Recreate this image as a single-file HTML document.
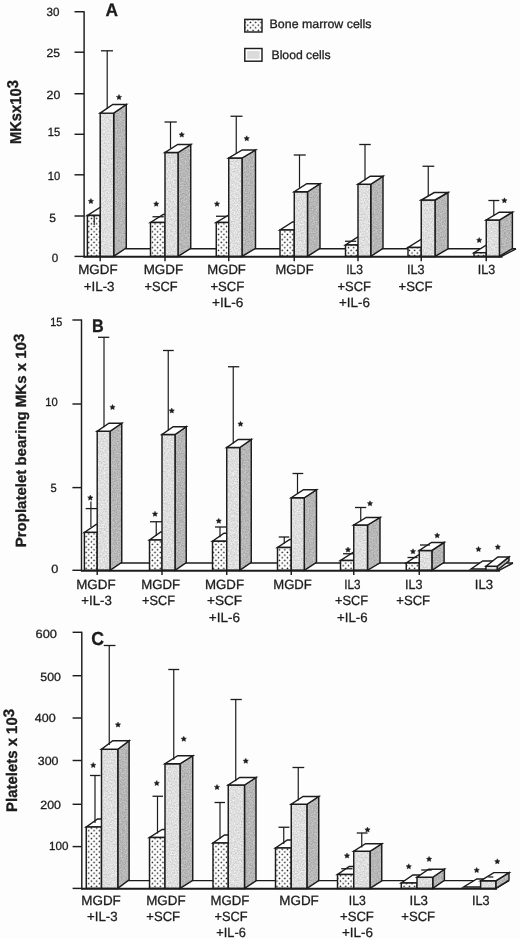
<!DOCTYPE html>
<html><head><meta charset="utf-8"><title>Figure</title>
<style>
html,body{margin:0;padding:0;background:#fdfdfd;}
body{width:520px;height:939px;overflow:hidden;font-family:"Liberation Sans",sans-serif;}
svg{display:block;font-family:"Liberation Sans",sans-serif;}
text{text-rendering:geometricPrecision;}
</style></head><body>
<svg width="520" height="939" viewBox="0 0 520 939">
<defs>
<pattern id="dots" width="5.3" height="5.3" patternUnits="userSpaceOnUse">
<rect width="5.3" height="5.3" fill="#fff"/>
<circle cx="1.3" cy="1.3" r="0.78" fill="#111"/>
<circle cx="3.95" cy="3.95" r="0.78" fill="#111"/>
</pattern>
<filter id="nf" x="0" y="0" width="100%" height="100%" color-interpolation-filters="sRGB">
<feTurbulence type="fractalNoise" baseFrequency="0.7" numOctaves="2" seed="7" result="t"/>
<feColorMatrix in="t" type="matrix" values="0.3 0 0 0 0.722  0.3 0 0 0 0.722  0.3 0 0 0 0.722  0 0 0 0 1" result="g"/>
<feComposite in="g" in2="SourceGraphic" operator="in"/>
</filter>
<filter id="ns" x="0" y="0" width="100%" height="100%" color-interpolation-filters="sRGB">
<feTurbulence type="fractalNoise" baseFrequency="0.75" numOctaves="2" seed="11" result="t"/>
<feColorMatrix in="t" type="matrix" values="0.3 0 0 0 0.565  0.3 0 0 0 0.565  0.3 0 0 0 0.565  0 0 0 0 1" result="g"/>
<feComposite in="g" in2="SourceGraphic" operator="in"/>
</filter>
</defs>
<rect width="520" height="939" fill="#fdfdfd"/>
<g opacity="0.999">
<polygon points="84.10,256.40 501.50,256.40 516.00,248.80 96.10,248.80" fill="#fff" stroke="none" stroke-width="0" stroke-linejoin="miter"/>
<line x1="125.30" y1="248.80" x2="516.00" y2="248.80" stroke="#1c1c1c" stroke-width="1.45" stroke-linecap="butt"/>
<line x1="501.50" y1="256.40" x2="516.00" y2="248.80" stroke="#1c1c1c" stroke-width="1.45" stroke-linecap="butt"/>
<polygon points="87.40,215.40 100.20,215.40 112.80,207.40 100.00,207.40" fill="#fff" stroke="#1c1c1c" stroke-width="1.45" stroke-linejoin="miter"/>
<rect x="87.40" y="215.40" width="12.80" height="41.00" fill="url(#dots)" stroke="#1c1c1c" stroke-width="1.45"/>
<line x1="94.20" y1="215.60" x2="94.20" y2="225.00" stroke="#1c1c1c" stroke-width="1.2" stroke-linecap="butt"/>
<line x1="91.00" y1="215.60" x2="97.30" y2="215.60" stroke="#1c1c1c" stroke-width="1.3" stroke-linecap="butt"/>
<polygon points="113.70,113.10 126.30,104.50 126.30,247.80 113.70,256.40" fill="#bababa" filter="url(#ns)"/>
<polygon points="113.70,113.10 126.30,104.50 126.30,247.80 113.70,256.40" fill="none" stroke="#1c1c1c" stroke-width="1.45" stroke-linejoin="miter"/>
<polygon points="100.20,113.10 113.70,113.10 113.70,256.40 100.20,256.40" fill="#dbdbdb" filter="url(#nf)"/>
<polygon points="100.20,113.10 113.70,113.10 113.70,256.40 100.20,256.40" fill="none" stroke="#1c1c1c" stroke-width="1.45" stroke-linejoin="miter"/>
<polygon points="100.20,113.10 113.70,113.10 126.30,104.50 112.80,104.50" fill="#fff" stroke="#1c1c1c" stroke-width="1.45" stroke-linejoin="miter"/>
<line x1="107.20" y1="50.80" x2="107.20" y2="108.80" stroke="#1c1c1c" stroke-width="1.2" stroke-linecap="butt"/>
<line x1="101.00" y1="50.80" x2="113.00" y2="50.80" stroke="#1c1c1c" stroke-width="1.3" stroke-linecap="butt"/>
<polygon points="90.90,198.50 91.72,200.17 93.56,200.43 92.23,201.73 92.55,203.57 90.90,202.70 89.25,203.57 89.57,201.73 88.24,200.43 90.08,200.17" fill="#1c1c1c" stroke="#1c1c1c" stroke-width="0.45" stroke-linejoin="round"/>
<polygon points="119.00,94.50 119.82,96.17 121.66,96.43 120.33,97.73 120.65,99.57 119.00,98.70 117.35,99.57 117.67,97.73 116.34,96.43 118.18,96.17" fill="#1c1c1c" stroke="#1c1c1c" stroke-width="0.45" stroke-linejoin="round"/>
<polygon points="150.50,222.50 165.00,222.50 177.75,214.50 163.25,214.50" fill="#fff" stroke="#1c1c1c" stroke-width="1.45" stroke-linejoin="miter"/>
<rect x="150.50" y="222.50" width="14.50" height="33.90" fill="url(#dots)" stroke="#1c1c1c" stroke-width="1.45"/>
<line x1="152.50" y1="216.75" x2="163.75" y2="216.75" stroke="#1c1c1c" stroke-width="1.3" stroke-linecap="butt"/>
<polygon points="178.00,152.50 190.75,144.50 190.75,248.40 178.00,256.40" fill="#bababa" filter="url(#ns)"/>
<polygon points="178.00,152.50 190.75,144.50 190.75,248.40 178.00,256.40" fill="none" stroke="#1c1c1c" stroke-width="1.45" stroke-linejoin="miter"/>
<polygon points="165.00,152.50 178.00,152.50 178.00,256.40 165.00,256.40" fill="#dbdbdb" filter="url(#nf)"/>
<polygon points="165.00,152.50 178.00,152.50 178.00,256.40 165.00,256.40" fill="none" stroke="#1c1c1c" stroke-width="1.45" stroke-linejoin="miter"/>
<polygon points="165.00,152.50 178.00,152.50 190.75,144.50 177.75,144.50" fill="#fff" stroke="#1c1c1c" stroke-width="1.45" stroke-linejoin="miter"/>
<line x1="170.50" y1="122.00" x2="170.50" y2="148.50" stroke="#1c1c1c" stroke-width="1.2" stroke-linecap="butt"/>
<line x1="164.50" y1="122.00" x2="176.75" y2="122.00" stroke="#1c1c1c" stroke-width="1.3" stroke-linecap="butt"/>
<polygon points="156.25,201.25 157.07,202.92 158.91,203.18 157.58,204.48 157.90,206.32 156.25,205.45 154.60,206.32 154.92,204.48 153.59,203.18 155.43,202.92" fill="#1c1c1c" stroke="#1c1c1c" stroke-width="0.45" stroke-linejoin="round"/>
<polygon points="181.75,132.00 182.57,133.67 184.41,133.93 183.08,135.23 183.40,137.07 181.75,136.20 180.10,137.07 180.42,135.23 179.09,133.93 180.93,133.67" fill="#1c1c1c" stroke="#1c1c1c" stroke-width="0.45" stroke-linejoin="round"/>
<polygon points="216.25,222.50 228.75,222.50 242.25,214.50 229.75,214.50" fill="#fff" stroke="#1c1c1c" stroke-width="1.45" stroke-linejoin="miter"/>
<rect x="216.25" y="222.50" width="12.50" height="33.90" fill="url(#dots)" stroke="#1c1c1c" stroke-width="1.45"/>
<line x1="216.00" y1="216.25" x2="227.50" y2="216.25" stroke="#1c1c1c" stroke-width="1.3" stroke-linecap="butt"/>
<polygon points="242.00,158.00 255.50,150.00 255.50,248.40 242.00,256.40" fill="#bababa" filter="url(#ns)"/>
<polygon points="242.00,158.00 255.50,150.00 255.50,248.40 242.00,256.40" fill="none" stroke="#1c1c1c" stroke-width="1.45" stroke-linejoin="miter"/>
<polygon points="228.75,158.00 242.00,158.00 242.00,256.40 228.75,256.40" fill="#dbdbdb" filter="url(#nf)"/>
<polygon points="228.75,158.00 242.00,158.00 242.00,256.40 228.75,256.40" fill="none" stroke="#1c1c1c" stroke-width="1.45" stroke-linejoin="miter"/>
<polygon points="228.75,158.00 242.00,158.00 255.50,150.00 242.25,150.00" fill="#fff" stroke="#1c1c1c" stroke-width="1.45" stroke-linejoin="miter"/>
<line x1="236.25" y1="116.25" x2="236.25" y2="154.00" stroke="#1c1c1c" stroke-width="1.2" stroke-linecap="butt"/>
<line x1="230.50" y1="116.25" x2="242.50" y2="116.25" stroke="#1c1c1c" stroke-width="1.3" stroke-linecap="butt"/>
<polygon points="217.00,201.25 217.82,202.92 219.66,203.18 218.33,204.48 218.65,206.32 217.00,205.45 215.35,206.32 215.67,204.48 214.34,203.18 216.18,202.92" fill="#1c1c1c" stroke="#1c1c1c" stroke-width="0.45" stroke-linejoin="round"/>
<polygon points="246.75,135.75 247.57,137.42 249.41,137.68 248.08,138.98 248.40,140.82 246.75,139.95 245.10,140.82 245.42,138.98 244.09,137.68 245.93,137.42" fill="#1c1c1c" stroke="#1c1c1c" stroke-width="0.45" stroke-linejoin="round"/>
<polygon points="280.00,230.00 294.25,230.00 306.75,222.00 292.50,222.00" fill="#fff" stroke="#1c1c1c" stroke-width="1.45" stroke-linejoin="miter"/>
<rect x="280.00" y="230.00" width="14.25" height="26.40" fill="url(#dots)" stroke="#1c1c1c" stroke-width="1.45"/>
<polygon points="307.50,191.75 320.00,183.75 320.00,248.40 307.50,256.40" fill="#bababa" filter="url(#ns)"/>
<polygon points="307.50,191.75 320.00,183.75 320.00,248.40 307.50,256.40" fill="none" stroke="#1c1c1c" stroke-width="1.45" stroke-linejoin="miter"/>
<polygon points="294.25,191.75 307.50,191.75 307.50,256.40 294.25,256.40" fill="#dbdbdb" filter="url(#nf)"/>
<polygon points="294.25,191.75 307.50,191.75 307.50,256.40 294.25,256.40" fill="none" stroke="#1c1c1c" stroke-width="1.45" stroke-linejoin="miter"/>
<polygon points="294.25,191.75 307.50,191.75 320.00,183.75 306.75,183.75" fill="#fff" stroke="#1c1c1c" stroke-width="1.45" stroke-linejoin="miter"/>
<line x1="299.50" y1="155.00" x2="299.50" y2="187.75" stroke="#1c1c1c" stroke-width="1.2" stroke-linecap="butt"/>
<line x1="293.75" y1="155.00" x2="305.75" y2="155.00" stroke="#1c1c1c" stroke-width="1.3" stroke-linecap="butt"/>
<polygon points="345.50,245.00 358.00,245.00 370.25,237.00 357.75,237.00" fill="#fff" stroke="#1c1c1c" stroke-width="1.45" stroke-linejoin="miter"/>
<rect x="345.50" y="245.00" width="12.50" height="11.40" fill="url(#dots)" stroke="#1c1c1c" stroke-width="1.45"/>
<line x1="345.00" y1="241.25" x2="356.25" y2="241.25" stroke="#1c1c1c" stroke-width="1.3" stroke-linecap="butt"/>
<polygon points="370.75,184.25 383.00,176.25 383.00,248.40 370.75,256.40" fill="#bababa" filter="url(#ns)"/>
<polygon points="370.75,184.25 383.00,176.25 383.00,248.40 370.75,256.40" fill="none" stroke="#1c1c1c" stroke-width="1.45" stroke-linejoin="miter"/>
<polygon points="358.00,184.25 370.75,184.25 370.75,256.40 358.00,256.40" fill="#dbdbdb" filter="url(#nf)"/>
<polygon points="358.00,184.25 370.75,184.25 370.75,256.40 358.00,256.40" fill="none" stroke="#1c1c1c" stroke-width="1.45" stroke-linejoin="miter"/>
<polygon points="358.00,184.25 370.75,184.25 383.00,176.25 370.25,176.25" fill="#fff" stroke="#1c1c1c" stroke-width="1.45" stroke-linejoin="miter"/>
<line x1="365.00" y1="144.50" x2="365.00" y2="180.25" stroke="#1c1c1c" stroke-width="1.2" stroke-linecap="butt"/>
<line x1="359.25" y1="144.50" x2="370.75" y2="144.50" stroke="#1c1c1c" stroke-width="1.3" stroke-linecap="butt"/>
<polygon points="408.00,247.50 421.25,247.50 434.25,239.50 421.00,239.50" fill="#fff" stroke="#1c1c1c" stroke-width="1.45" stroke-linejoin="miter"/>
<rect x="408.00" y="247.50" width="13.25" height="8.90" fill="url(#dots)" stroke="#1c1c1c" stroke-width="1.45"/>
<polygon points="435.00,200.00 448.00,192.50 448.00,248.90 435.00,256.40" fill="#bababa" filter="url(#ns)"/>
<polygon points="435.00,200.00 448.00,192.50 448.00,248.90 435.00,256.40" fill="none" stroke="#1c1c1c" stroke-width="1.45" stroke-linejoin="miter"/>
<polygon points="421.25,200.00 435.00,200.00 435.00,256.40 421.25,256.40" fill="#dbdbdb" filter="url(#nf)"/>
<polygon points="421.25,200.00 435.00,200.00 435.00,256.40 421.25,256.40" fill="none" stroke="#1c1c1c" stroke-width="1.45" stroke-linejoin="miter"/>
<polygon points="421.25,200.00 435.00,200.00 448.00,192.50 434.25,192.50" fill="#fff" stroke="#1c1c1c" stroke-width="1.45" stroke-linejoin="miter"/>
<line x1="428.25" y1="166.25" x2="428.25" y2="196.25" stroke="#1c1c1c" stroke-width="1.2" stroke-linecap="butt"/>
<line x1="422.50" y1="166.25" x2="434.25" y2="166.25" stroke="#1c1c1c" stroke-width="1.3" stroke-linecap="butt"/>
<polygon points="474.00,252.70 486.25,252.70 499.25,244.70 487.00,244.70" fill="#fff" stroke="#1c1c1c" stroke-width="1.45" stroke-linejoin="miter"/>
<rect x="474.00" y="252.70" width="12.25" height="3.70" fill="url(#dots)" stroke="#1c1c1c" stroke-width="1.45"/>
<polygon points="499.40,220.00 512.40,212.20 512.40,248.60 499.40,256.40" fill="#bababa" filter="url(#ns)"/>
<polygon points="499.40,220.00 512.40,212.20 512.40,248.60 499.40,256.40" fill="none" stroke="#1c1c1c" stroke-width="1.45" stroke-linejoin="miter"/>
<polygon points="486.25,220.00 499.40,220.00 499.40,256.40 486.25,256.40" fill="#dbdbdb" filter="url(#nf)"/>
<polygon points="486.25,220.00 499.40,220.00 499.40,256.40 486.25,256.40" fill="none" stroke="#1c1c1c" stroke-width="1.45" stroke-linejoin="miter"/>
<polygon points="486.25,220.00 499.40,220.00 512.40,212.20 499.25,212.20" fill="#fff" stroke="#1c1c1c" stroke-width="1.45" stroke-linejoin="miter"/>
<line x1="493.80" y1="200.50" x2="493.80" y2="216.10" stroke="#1c1c1c" stroke-width="1.2" stroke-linecap="butt"/>
<line x1="488.40" y1="200.50" x2="499.30" y2="200.50" stroke="#1c1c1c" stroke-width="1.3" stroke-linecap="butt"/>
<polygon points="479.20,237.50 480.02,239.17 481.86,239.43 480.53,240.73 480.85,242.57 479.20,241.70 477.55,242.57 477.87,240.73 476.54,239.43 478.38,239.17" fill="#1c1c1c" stroke="#1c1c1c" stroke-width="0.45" stroke-linejoin="round"/>
<polygon points="504.40,197.80 505.22,199.47 507.06,199.73 505.73,201.03 506.05,202.87 504.40,202.00 502.75,202.87 503.07,201.03 501.74,199.73 503.58,199.47" fill="#1c1c1c" stroke="#1c1c1c" stroke-width="0.45" stroke-linejoin="round"/>
<line x1="83.60" y1="256.75" x2="502.50" y2="256.75" stroke="#1c1c1c" stroke-width="2.0" stroke-linecap="butt"/>
<line x1="84.10" y1="11.15" x2="84.10" y2="257.40" stroke="#1c1c1c" stroke-width="1.45" stroke-linecap="butt"/>
<line x1="74.50" y1="11.75" x2="84.10" y2="11.75" stroke="#1c1c1c" stroke-width="1.45" stroke-linecap="butt"/>
<line x1="74.50" y1="52.20" x2="84.10" y2="52.20" stroke="#1c1c1c" stroke-width="1.45" stroke-linecap="butt"/>
<line x1="74.50" y1="93.75" x2="84.10" y2="93.75" stroke="#1c1c1c" stroke-width="1.45" stroke-linecap="butt"/>
<line x1="74.50" y1="134.30" x2="84.10" y2="134.30" stroke="#1c1c1c" stroke-width="1.45" stroke-linecap="butt"/>
<line x1="74.50" y1="174.80" x2="84.10" y2="174.80" stroke="#1c1c1c" stroke-width="1.45" stroke-linecap="butt"/>
<line x1="74.50" y1="216.00" x2="84.10" y2="216.00" stroke="#1c1c1c" stroke-width="1.45" stroke-linecap="butt"/>
<line x1="74.50" y1="256.40" x2="84.10" y2="256.40" stroke="#1c1c1c" stroke-width="1.45" stroke-linecap="butt"/>
<line x1="100.20" y1="256.40" x2="100.20" y2="261.20" stroke="#1c1c1c" stroke-width="1.45" stroke-linecap="butt"/>
<line x1="165.00" y1="256.40" x2="165.00" y2="261.20" stroke="#1c1c1c" stroke-width="1.45" stroke-linecap="butt"/>
<line x1="228.75" y1="256.40" x2="228.75" y2="261.20" stroke="#1c1c1c" stroke-width="1.45" stroke-linecap="butt"/>
<line x1="294.25" y1="256.40" x2="294.25" y2="261.20" stroke="#1c1c1c" stroke-width="1.45" stroke-linecap="butt"/>
<line x1="358.00" y1="256.40" x2="358.00" y2="261.20" stroke="#1c1c1c" stroke-width="1.45" stroke-linecap="butt"/>
<line x1="421.25" y1="256.40" x2="421.25" y2="261.20" stroke="#1c1c1c" stroke-width="1.45" stroke-linecap="butt"/>
<line x1="486.25" y1="256.40" x2="486.25" y2="261.20" stroke="#1c1c1c" stroke-width="1.45" stroke-linecap="butt"/>
<text transform="translate(46.60,16.45) scale(0.9736,1)" font-size="11.9" font-weight="normal" fill="#1c1c1c" stroke="#1c1c1c" stroke-width="0.3">30</text>
<text transform="translate(46.40,57.00) scale(1.0189,1)" font-size="11.9" font-weight="normal" fill="#1c1c1c" stroke="#1c1c1c" stroke-width="0.3">25</text>
<text transform="translate(46.60,99.25) scale(1.0340,1)" font-size="11.9" font-weight="normal" fill="#1c1c1c" stroke="#1c1c1c" stroke-width="0.3">20</text>
<text transform="translate(47.80,135.65) scale(0.9434,1)" font-size="11.9" font-weight="normal" fill="#1c1c1c" stroke="#1c1c1c" stroke-width="0.3">15</text>
<text transform="translate(47.80,180.25) scale(0.9434,1)" font-size="11.9" font-weight="normal" fill="#1c1c1c" stroke="#1c1c1c" stroke-width="0.3">10</text>
<text transform="translate(49.20,222.25) scale(1.0113,1)" font-size="11.9" font-weight="normal" fill="#1c1c1c" stroke="#1c1c1c" stroke-width="0.3">5</text>
<text transform="translate(51.80,262.25) scale(0.9811,1)" font-size="11.9" font-weight="normal" fill="#1c1c1c" stroke="#1c1c1c" stroke-width="0.3">0</text>
<text transform="translate(78.25,273.60) scale(0.9968,1)" font-size="13.4" font-weight="normal" fill="#1c1c1c" stroke="#1c1c1c" stroke-width="0.3">MGDF</text>
<text transform="translate(83.75,290.60) scale(0.9960,1)" font-size="13.4" font-weight="normal" fill="#1c1c1c" stroke="#1c1c1c" stroke-width="0.3">+IL-3</text>
<text transform="translate(143.75,273.60) scale(0.9968,1)" font-size="13.4" font-weight="normal" fill="#1c1c1c" stroke="#1c1c1c" stroke-width="0.3">MGDF</text>
<text transform="translate(144.50,290.60) scale(0.9565,1)" font-size="13.4" font-weight="normal" fill="#1c1c1c" stroke="#1c1c1c" stroke-width="0.3">+SCF</text>
<text transform="translate(207.30,273.60) scale(0.9778,1)" font-size="13.4" font-weight="normal" fill="#1c1c1c" stroke="#1c1c1c" stroke-width="0.3">MGDF</text>
<text transform="translate(210.40,290.60) scale(0.9797,1)" font-size="13.4" font-weight="normal" fill="#1c1c1c" stroke="#1c1c1c" stroke-width="0.3">+SCF</text>
<text transform="translate(212.00,307.30) scale(1.0138,1)" font-size="13.4" font-weight="normal" fill="#1c1c1c" stroke="#1c1c1c" stroke-width="0.3">+IL-6</text>
<text transform="translate(275.60,273.60) scale(0.9625,1)" font-size="13.4" font-weight="normal" fill="#1c1c1c" stroke="#1c1c1c" stroke-width="0.3">MGDF</text>
<text transform="translate(346.20,273.60) scale(0.9020,1)" font-size="13.4" font-weight="normal" fill="#1c1c1c" stroke="#1c1c1c" stroke-width="0.3">IL3</text>
<text transform="translate(337.50,290.60) scale(0.9652,1)" font-size="13.4" font-weight="normal" fill="#1c1c1c" stroke="#1c1c1c" stroke-width="0.3">+SCF</text>
<text transform="translate(339.00,307.30) scale(0.9976,1)" font-size="13.4" font-weight="normal" fill="#1c1c1c" stroke="#1c1c1c" stroke-width="0.3">+IL-6</text>
<text transform="translate(407.00,273.60) scale(0.9450,1)" font-size="13.4" font-weight="normal" fill="#1c1c1c" stroke="#1c1c1c" stroke-width="0.3">IL3</text>
<text transform="translate(398.50,290.60) scale(0.9797,1)" font-size="13.4" font-weight="normal" fill="#1c1c1c" stroke="#1c1c1c" stroke-width="0.3">+SCF</text>
<text transform="translate(477.70,273.60) scale(0.9342,1)" font-size="13.4" font-weight="normal" fill="#1c1c1c" stroke="#1c1c1c" stroke-width="0.3">IL3</text>
<polygon points="81.50,570.30 499.00,570.30 513.00,563.00 93.50,563.00" fill="#fff" stroke="none" stroke-width="0" stroke-linejoin="miter"/>
<line x1="120.75" y1="563.00" x2="513.00" y2="563.00" stroke="#1c1c1c" stroke-width="1.45" stroke-linecap="butt"/>
<line x1="499.00" y1="570.30" x2="513.00" y2="563.00" stroke="#1c1c1c" stroke-width="1.45" stroke-linecap="butt"/>
<polygon points="84.40,532.40 97.20,532.40 108.95,524.40 96.15,524.40" fill="#fff" stroke="#1c1c1c" stroke-width="1.45" stroke-linejoin="miter"/>
<rect x="84.40" y="532.40" width="12.80" height="37.90" fill="url(#dots)" stroke="#1c1c1c" stroke-width="1.45"/>
<line x1="90.90" y1="508.60" x2="90.90" y2="527.00" stroke="#1c1c1c" stroke-width="1.2" stroke-linecap="butt"/>
<line x1="85.70" y1="508.60" x2="97.00" y2="508.60" stroke="#1c1c1c" stroke-width="1.3" stroke-linecap="butt"/>
<line x1="90.90" y1="501.50" x2="90.90" y2="508.60" stroke="#1c1c1c" stroke-width="1.2" stroke-linecap="butt"/>
<polygon points="110.00,431.25 121.75,423.25 121.75,562.30 110.00,570.30" fill="#bababa" filter="url(#ns)"/>
<polygon points="110.00,431.25 121.75,423.25 121.75,562.30 110.00,570.30" fill="none" stroke="#1c1c1c" stroke-width="1.45" stroke-linejoin="miter"/>
<polygon points="97.20,431.25 110.00,431.25 110.00,570.30 97.20,570.30" fill="#dbdbdb" filter="url(#nf)"/>
<polygon points="97.20,431.25 110.00,431.25 110.00,570.30 97.20,570.30" fill="none" stroke="#1c1c1c" stroke-width="1.45" stroke-linejoin="miter"/>
<polygon points="97.20,431.25 110.00,431.25 121.75,423.25 108.95,423.25" fill="#fff" stroke="#1c1c1c" stroke-width="1.45" stroke-linejoin="miter"/>
<line x1="104.00" y1="337.30" x2="104.00" y2="427.25" stroke="#1c1c1c" stroke-width="1.2" stroke-linecap="butt"/>
<line x1="98.00" y1="337.30" x2="109.25" y2="337.30" stroke="#1c1c1c" stroke-width="1.3" stroke-linecap="butt"/>
<polygon points="90.30,495.10 91.12,496.77 92.96,497.03 91.63,498.33 91.95,500.17 90.30,499.30 88.65,500.17 88.97,498.33 87.64,497.03 89.48,496.77" fill="#1c1c1c" stroke="#1c1c1c" stroke-width="0.45" stroke-linejoin="round"/>
<polygon points="112.50,404.50 113.32,406.17 115.16,406.43 113.83,407.73 114.15,409.57 112.50,408.70 110.85,409.57 111.17,407.73 109.84,406.43 111.68,406.17" fill="#1c1c1c" stroke="#1c1c1c" stroke-width="0.45" stroke-linejoin="round"/>
<polygon points="149.50,540.00 162.00,540.00 173.25,532.00 160.75,532.00" fill="#fff" stroke="#1c1c1c" stroke-width="1.45" stroke-linejoin="miter"/>
<rect x="149.50" y="540.00" width="12.50" height="30.30" fill="url(#dots)" stroke="#1c1c1c" stroke-width="1.45"/>
<line x1="156.25" y1="521.75" x2="156.25" y2="536.00" stroke="#1c1c1c" stroke-width="1.2" stroke-linecap="butt"/>
<line x1="150.00" y1="521.75" x2="162.00" y2="521.75" stroke="#1c1c1c" stroke-width="1.3" stroke-linecap="butt"/>
<polygon points="175.00,434.50 186.25,426.75 186.25,562.55 175.00,570.30" fill="#bababa" filter="url(#ns)"/>
<polygon points="175.00,434.50 186.25,426.75 186.25,562.55 175.00,570.30" fill="none" stroke="#1c1c1c" stroke-width="1.45" stroke-linejoin="miter"/>
<polygon points="162.00,434.50 175.00,434.50 175.00,570.30 162.00,570.30" fill="#dbdbdb" filter="url(#nf)"/>
<polygon points="162.00,434.50 175.00,434.50 175.00,570.30 162.00,570.30" fill="none" stroke="#1c1c1c" stroke-width="1.45" stroke-linejoin="miter"/>
<polygon points="162.00,434.50 175.00,434.50 186.25,426.75 173.25,426.75" fill="#fff" stroke="#1c1c1c" stroke-width="1.45" stroke-linejoin="miter"/>
<line x1="168.25" y1="350.50" x2="168.25" y2="430.62" stroke="#1c1c1c" stroke-width="1.2" stroke-linecap="butt"/>
<line x1="163.00" y1="350.50" x2="173.75" y2="350.50" stroke="#1c1c1c" stroke-width="1.3" stroke-linecap="butt"/>
<polygon points="155.00,511.25 155.82,512.92 157.66,513.18 156.33,514.48 156.65,516.32 155.00,515.45 153.35,516.32 153.67,514.48 152.34,513.18 154.18,512.92" fill="#1c1c1c" stroke="#1c1c1c" stroke-width="0.45" stroke-linejoin="round"/>
<polygon points="171.75,408.00 172.57,409.67 174.41,409.93 173.08,411.23 173.40,413.07 171.75,412.20 170.10,413.07 170.42,411.23 169.09,409.93 170.93,409.67" fill="#1c1c1c" stroke="#1c1c1c" stroke-width="0.45" stroke-linejoin="round"/>
<polygon points="212.50,541.25 226.75,541.25 238.25,533.25 224.00,533.25" fill="#fff" stroke="#1c1c1c" stroke-width="1.45" stroke-linejoin="miter"/>
<rect x="212.50" y="541.25" width="14.25" height="29.05" fill="url(#dots)" stroke="#1c1c1c" stroke-width="1.45"/>
<line x1="220.00" y1="527.00" x2="220.00" y2="537.25" stroke="#1c1c1c" stroke-width="1.2" stroke-linecap="butt"/>
<line x1="215.00" y1="527.00" x2="226.25" y2="527.00" stroke="#1c1c1c" stroke-width="1.3" stroke-linecap="butt"/>
<polygon points="239.75,447.50 251.25,439.50 251.25,562.30 239.75,570.30" fill="#bababa" filter="url(#ns)"/>
<polygon points="239.75,447.50 251.25,439.50 251.25,562.30 239.75,570.30" fill="none" stroke="#1c1c1c" stroke-width="1.45" stroke-linejoin="miter"/>
<polygon points="226.75,447.50 239.75,447.50 239.75,570.30 226.75,570.30" fill="#dbdbdb" filter="url(#nf)"/>
<polygon points="226.75,447.50 239.75,447.50 239.75,570.30 226.75,570.30" fill="none" stroke="#1c1c1c" stroke-width="1.45" stroke-linejoin="miter"/>
<polygon points="226.75,447.50 239.75,447.50 251.25,439.50 238.25,439.50" fill="#fff" stroke="#1c1c1c" stroke-width="1.45" stroke-linejoin="miter"/>
<line x1="233.25" y1="366.75" x2="233.25" y2="443.50" stroke="#1c1c1c" stroke-width="1.2" stroke-linecap="butt"/>
<line x1="228.00" y1="366.75" x2="239.25" y2="366.75" stroke="#1c1c1c" stroke-width="1.3" stroke-linecap="butt"/>
<polygon points="218.75,518.25 219.57,519.92 221.41,520.18 220.08,521.48 220.40,523.32 218.75,522.45 217.10,523.32 217.42,521.48 216.09,520.18 217.93,519.92" fill="#1c1c1c" stroke="#1c1c1c" stroke-width="0.45" stroke-linejoin="round"/>
<polygon points="240.50,421.25 241.32,422.92 243.16,423.18 241.83,424.48 242.15,426.32 240.50,425.45 238.85,426.32 239.17,424.48 237.84,423.18 239.68,422.92" fill="#1c1c1c" stroke="#1c1c1c" stroke-width="0.45" stroke-linejoin="round"/>
<polygon points="277.50,547.50 291.25,547.50 303.50,539.50 289.75,539.50" fill="#fff" stroke="#1c1c1c" stroke-width="1.45" stroke-linejoin="miter"/>
<rect x="277.50" y="547.50" width="13.75" height="22.80" fill="url(#dots)" stroke="#1c1c1c" stroke-width="1.45"/>
<line x1="284.25" y1="537.00" x2="284.25" y2="543.50" stroke="#1c1c1c" stroke-width="1.2" stroke-linecap="butt"/>
<line x1="278.75" y1="537.00" x2="289.25" y2="537.00" stroke="#1c1c1c" stroke-width="1.3" stroke-linecap="butt"/>
<polygon points="304.25,497.75 316.50,489.75 316.50,562.30 304.25,570.30" fill="#bababa" filter="url(#ns)"/>
<polygon points="304.25,497.75 316.50,489.75 316.50,562.30 304.25,570.30" fill="none" stroke="#1c1c1c" stroke-width="1.45" stroke-linejoin="miter"/>
<polygon points="291.25,497.75 304.25,497.75 304.25,570.30 291.25,570.30" fill="#dbdbdb" filter="url(#nf)"/>
<polygon points="291.25,497.75 304.25,497.75 304.25,570.30 291.25,570.30" fill="none" stroke="#1c1c1c" stroke-width="1.45" stroke-linejoin="miter"/>
<polygon points="291.25,497.75 304.25,497.75 316.50,489.75 303.50,489.75" fill="#fff" stroke="#1c1c1c" stroke-width="1.45" stroke-linejoin="miter"/>
<line x1="297.50" y1="473.50" x2="297.50" y2="493.75" stroke="#1c1c1c" stroke-width="1.2" stroke-linecap="butt"/>
<line x1="292.50" y1="473.50" x2="303.25" y2="473.50" stroke="#1c1c1c" stroke-width="1.3" stroke-linecap="butt"/>
<polygon points="340.50,560.50 353.75,560.50 366.25,552.50 353.00,552.50" fill="#fff" stroke="#1c1c1c" stroke-width="1.45" stroke-linejoin="miter"/>
<rect x="340.50" y="560.50" width="13.25" height="9.80" fill="url(#dots)" stroke="#1c1c1c" stroke-width="1.45"/>
<line x1="343.00" y1="553.75" x2="353.75" y2="553.75" stroke="#1c1c1c" stroke-width="1.3" stroke-linecap="butt"/>
<polygon points="367.50,525.00 380.00,517.50 380.00,562.80 367.50,570.30" fill="#bababa" filter="url(#ns)"/>
<polygon points="367.50,525.00 380.00,517.50 380.00,562.80 367.50,570.30" fill="none" stroke="#1c1c1c" stroke-width="1.45" stroke-linejoin="miter"/>
<polygon points="353.75,525.00 367.50,525.00 367.50,570.30 353.75,570.30" fill="#dbdbdb" filter="url(#nf)"/>
<polygon points="353.75,525.00 367.50,525.00 367.50,570.30 353.75,570.30" fill="none" stroke="#1c1c1c" stroke-width="1.45" stroke-linejoin="miter"/>
<polygon points="353.75,525.00 367.50,525.00 380.00,517.50 366.25,517.50" fill="#fff" stroke="#1c1c1c" stroke-width="1.45" stroke-linejoin="miter"/>
<line x1="360.75" y1="507.50" x2="360.75" y2="521.25" stroke="#1c1c1c" stroke-width="1.2" stroke-linecap="butt"/>
<line x1="355.00" y1="507.50" x2="366.25" y2="507.50" stroke="#1c1c1c" stroke-width="1.3" stroke-linecap="butt"/>
<polygon points="348.00,547.00 348.82,548.67 350.66,548.93 349.33,550.23 349.65,552.07 348.00,551.20 346.35,552.07 346.67,550.23 345.34,548.93 347.18,548.67" fill="#1c1c1c" stroke="#1c1c1c" stroke-width="0.45" stroke-linejoin="round"/>
<polygon points="370.00,500.75 370.82,502.42 372.66,502.68 371.33,503.98 371.65,505.82 370.00,504.95 368.35,505.82 368.67,503.98 367.34,502.68 369.18,502.42" fill="#1c1c1c" stroke="#1c1c1c" stroke-width="0.45" stroke-linejoin="round"/>
<polygon points="406.25,563.00 419.25,563.00 431.45,555.00 418.45,555.00" fill="#fff" stroke="#1c1c1c" stroke-width="1.45" stroke-linejoin="miter"/>
<rect x="406.25" y="563.00" width="13.00" height="7.30" fill="url(#dots)" stroke="#1c1c1c" stroke-width="1.45"/>
<line x1="407.50" y1="557.50" x2="417.50" y2="557.50" stroke="#1c1c1c" stroke-width="1.3" stroke-linecap="butt"/>
<polygon points="431.90,550.40 444.10,542.40 444.10,562.30 431.90,570.30" fill="#bababa" filter="url(#ns)"/>
<polygon points="431.90,550.40 444.10,542.40 444.10,562.30 431.90,570.30" fill="none" stroke="#1c1c1c" stroke-width="1.45" stroke-linejoin="miter"/>
<polygon points="419.25,550.40 431.90,550.40 431.90,570.30 419.25,570.30" fill="#dbdbdb" filter="url(#nf)"/>
<polygon points="419.25,550.40 431.90,550.40 431.90,570.30 419.25,570.30" fill="none" stroke="#1c1c1c" stroke-width="1.45" stroke-linejoin="miter"/>
<polygon points="419.25,550.40 431.90,550.40 444.10,542.40 431.45,542.40" fill="#fff" stroke="#1c1c1c" stroke-width="1.45" stroke-linejoin="miter"/>
<line x1="420.00" y1="545.00" x2="430.00" y2="545.00" stroke="#1c1c1c" stroke-width="1.3" stroke-linecap="butt"/>
<polygon points="413.00,548.75 413.82,550.42 415.66,550.68 414.33,551.98 414.65,553.82 413.00,552.95 411.35,553.82 411.67,551.98 410.34,550.68 412.18,550.42" fill="#1c1c1c" stroke="#1c1c1c" stroke-width="0.45" stroke-linejoin="round"/>
<polygon points="437.20,532.80 438.02,534.47 439.86,534.73 438.53,536.03 438.85,537.87 437.20,537.00 435.55,537.87 435.87,536.03 434.54,534.73 436.38,534.47" fill="#1c1c1c" stroke="#1c1c1c" stroke-width="0.45" stroke-linejoin="round"/>
<polygon points="471.00,569.00 486.00,569.00 497.80,561.00 482.80,561.00" fill="#fff" stroke="#1c1c1c" stroke-width="1.45" stroke-linejoin="miter"/>
<polygon points="497.20,566.20 509.00,556.90 509.00,561.00 497.20,570.30" fill="#bababa" filter="url(#ns)"/>
<polygon points="497.20,566.20 509.00,556.90 509.00,561.00 497.20,570.30" fill="none" stroke="#1c1c1c" stroke-width="1.45" stroke-linejoin="miter"/>
<polygon points="486.00,566.20 497.20,566.20 497.20,570.30 486.00,570.30" fill="#dbdbdb" filter="url(#nf)"/>
<polygon points="486.00,566.20 497.20,566.20 497.20,570.30 486.00,570.30" fill="none" stroke="#1c1c1c" stroke-width="1.45" stroke-linejoin="miter"/>
<polygon points="486.00,566.20 497.20,566.20 509.00,556.90 497.80,556.90" fill="#fff" stroke="#1c1c1c" stroke-width="1.45" stroke-linejoin="miter"/>
<polygon points="478.50,546.50 479.32,548.17 481.16,548.43 479.83,549.73 480.15,551.57 478.50,550.70 476.85,551.57 477.17,549.73 475.84,548.43 477.68,548.17" fill="#1c1c1c" stroke="#1c1c1c" stroke-width="0.45" stroke-linejoin="round"/>
<polygon points="497.80,544.40 498.62,546.07 500.46,546.33 499.13,547.63 499.45,549.47 497.80,548.60 496.15,549.47 496.47,547.63 495.14,546.33 496.98,546.07" fill="#1c1c1c" stroke="#1c1c1c" stroke-width="0.45" stroke-linejoin="round"/>
<line x1="81.00" y1="570.65" x2="500.00" y2="570.65" stroke="#1c1c1c" stroke-width="2.0" stroke-linecap="butt"/>
<line x1="81.50" y1="319.40" x2="81.50" y2="571.30" stroke="#1c1c1c" stroke-width="1.45" stroke-linecap="butt"/>
<line x1="72.40" y1="320.00" x2="81.50" y2="320.00" stroke="#1c1c1c" stroke-width="1.45" stroke-linecap="butt"/>
<line x1="72.40" y1="404.00" x2="81.50" y2="404.00" stroke="#1c1c1c" stroke-width="1.45" stroke-linecap="butt"/>
<line x1="72.40" y1="487.60" x2="81.50" y2="487.60" stroke="#1c1c1c" stroke-width="1.45" stroke-linecap="butt"/>
<line x1="72.40" y1="570.30" x2="81.50" y2="570.30" stroke="#1c1c1c" stroke-width="1.45" stroke-linecap="butt"/>
<line x1="97.20" y1="570.30" x2="97.20" y2="575.00" stroke="#1c1c1c" stroke-width="1.45" stroke-linecap="butt"/>
<line x1="162.00" y1="570.30" x2="162.00" y2="575.00" stroke="#1c1c1c" stroke-width="1.45" stroke-linecap="butt"/>
<line x1="226.75" y1="570.30" x2="226.75" y2="575.00" stroke="#1c1c1c" stroke-width="1.45" stroke-linecap="butt"/>
<line x1="291.25" y1="570.30" x2="291.25" y2="575.00" stroke="#1c1c1c" stroke-width="1.45" stroke-linecap="butt"/>
<line x1="353.75" y1="570.30" x2="353.75" y2="575.00" stroke="#1c1c1c" stroke-width="1.45" stroke-linecap="butt"/>
<line x1="419.25" y1="570.30" x2="419.25" y2="575.00" stroke="#1c1c1c" stroke-width="1.45" stroke-linecap="butt"/>
<text transform="translate(50.20,325.55) scale(0.9132,1)" font-size="11.9" font-weight="normal" fill="#1c1c1c" stroke="#1c1c1c" stroke-width="0.3">15</text>
<text transform="translate(45.30,406.05) scale(0.9434,1)" font-size="11.9" font-weight="normal" fill="#1c1c1c" stroke="#1c1c1c" stroke-width="0.3">10</text>
<text transform="translate(50.60,491.55) scale(0.9358,1)" font-size="11.9" font-weight="normal" fill="#1c1c1c" stroke="#1c1c1c" stroke-width="0.3">5</text>
<text transform="translate(51.20,572.85) scale(1.0717,1)" font-size="11.9" font-weight="normal" fill="#1c1c1c" stroke="#1c1c1c" stroke-width="0.3">0</text>
<text transform="translate(76.25,588.80) scale(0.9968,1)" font-size="13.4" font-weight="normal" fill="#1c1c1c" stroke="#1c1c1c" stroke-width="0.3">MGDF</text>
<text transform="translate(81.25,605.40) scale(0.9879,1)" font-size="13.4" font-weight="normal" fill="#1c1c1c" stroke="#1c1c1c" stroke-width="0.3">+IL-3</text>
<text transform="translate(141.25,588.80) scale(0.9841,1)" font-size="13.4" font-weight="normal" fill="#1c1c1c" stroke="#1c1c1c" stroke-width="0.3">MGDF</text>
<text transform="translate(142.00,605.40) scale(0.9565,1)" font-size="13.4" font-weight="normal" fill="#1c1c1c" stroke="#1c1c1c" stroke-width="0.3">+SCF</text>
<text transform="translate(205.00,588.80) scale(0.9905,1)" font-size="13.4" font-weight="normal" fill="#1c1c1c" stroke="#1c1c1c" stroke-width="0.3">MGDF</text>
<text transform="translate(207.00,605.40) scale(1.0145,1)" font-size="13.4" font-weight="normal" fill="#1c1c1c" stroke="#1c1c1c" stroke-width="0.3">+SCF</text>
<text transform="translate(208.75,622.00) scale(1.0121,1)" font-size="13.4" font-weight="normal" fill="#1c1c1c" stroke="#1c1c1c" stroke-width="0.3">+IL-6</text>
<text transform="translate(273.25,588.80) scale(0.9778,1)" font-size="13.4" font-weight="normal" fill="#1c1c1c" stroke="#1c1c1c" stroke-width="0.3">MGDF</text>
<text transform="translate(344.25,588.80) scale(0.8725,1)" font-size="13.4" font-weight="normal" fill="#1c1c1c" stroke="#1c1c1c" stroke-width="0.3">IL3</text>
<text transform="translate(335.00,605.40) scale(0.9565,1)" font-size="13.4" font-weight="normal" fill="#1c1c1c" stroke="#1c1c1c" stroke-width="0.3">+SCF</text>
<text transform="translate(337.00,622.00) scale(0.9879,1)" font-size="13.4" font-weight="normal" fill="#1c1c1c" stroke="#1c1c1c" stroke-width="0.3">+IL-6</text>
<text transform="translate(405.00,588.80) scale(0.9396,1)" font-size="13.4" font-weight="normal" fill="#1c1c1c" stroke="#1c1c1c" stroke-width="0.3">IL3</text>
<text transform="translate(396.25,605.40) scale(0.9783,1)" font-size="13.4" font-weight="normal" fill="#1c1c1c" stroke="#1c1c1c" stroke-width="0.3">+SCF</text>
<text transform="translate(474.80,588.80) scale(0.9772,1)" font-size="13.4" font-weight="normal" fill="#1c1c1c" stroke="#1c1c1c" stroke-width="0.3">IL3</text>
<polygon points="81.80,888.40 496.00,888.40 509.00,880.60 93.80,880.60" fill="#fff" stroke="none" stroke-width="0" stroke-linejoin="miter"/>
<line x1="128.10" y1="880.60" x2="509.00" y2="880.60" stroke="#1c1c1c" stroke-width="1.45" stroke-linecap="butt"/>
<line x1="496.00" y1="888.40" x2="509.00" y2="880.60" stroke="#1c1c1c" stroke-width="1.45" stroke-linecap="butt"/>
<polygon points="86.25,827.00 101.50,827.00 112.80,819.00 97.55,819.00" fill="#fff" stroke="#1c1c1c" stroke-width="1.45" stroke-linejoin="miter"/>
<rect x="86.25" y="827.00" width="15.25" height="61.40" fill="url(#dots)" stroke="#1c1c1c" stroke-width="1.45"/>
<line x1="95.00" y1="775.50" x2="95.00" y2="823.00" stroke="#1c1c1c" stroke-width="1.2" stroke-linecap="butt"/>
<line x1="90.00" y1="775.50" x2="100.50" y2="775.50" stroke="#1c1c1c" stroke-width="1.3" stroke-linecap="butt"/>
<polygon points="117.80,749.25 129.10,740.75 129.10,879.90 117.80,888.40" fill="#bababa" filter="url(#ns)"/>
<polygon points="117.80,749.25 129.10,740.75 129.10,879.90 117.80,888.40" fill="none" stroke="#1c1c1c" stroke-width="1.45" stroke-linejoin="miter"/>
<polygon points="101.50,749.25 117.80,749.25 117.80,888.40 101.50,888.40" fill="#dbdbdb" filter="url(#nf)"/>
<polygon points="101.50,749.25 117.80,749.25 117.80,888.40 101.50,888.40" fill="none" stroke="#1c1c1c" stroke-width="1.45" stroke-linejoin="miter"/>
<polygon points="101.50,749.25 117.80,749.25 129.10,740.75 112.80,740.75" fill="#fff" stroke="#1c1c1c" stroke-width="1.45" stroke-linejoin="miter"/>
<line x1="109.25" y1="645.50" x2="109.25" y2="745.00" stroke="#1c1c1c" stroke-width="1.2" stroke-linecap="butt"/>
<line x1="103.75" y1="645.50" x2="115.50" y2="645.50" stroke="#1c1c1c" stroke-width="1.3" stroke-linecap="butt"/>
<polygon points="93.25,762.50 94.07,764.17 95.91,764.43 94.58,765.73 94.90,767.57 93.25,766.70 91.60,767.57 91.92,765.73 90.59,764.43 92.43,764.17" fill="#1c1c1c" stroke="#1c1c1c" stroke-width="0.45" stroke-linejoin="round"/>
<polygon points="118.00,722.00 118.82,723.67 120.66,723.93 119.33,725.23 119.65,727.07 118.00,726.20 116.35,727.07 116.67,725.23 115.34,723.93 117.18,723.67" fill="#1c1c1c" stroke="#1c1c1c" stroke-width="0.45" stroke-linejoin="round"/>
<polygon points="149.50,837.50 165.00,837.50 177.75,829.50 162.25,829.50" fill="#fff" stroke="#1c1c1c" stroke-width="1.45" stroke-linejoin="miter"/>
<rect x="149.50" y="837.50" width="15.50" height="50.90" fill="url(#dots)" stroke="#1c1c1c" stroke-width="1.45"/>
<line x1="157.50" y1="796.25" x2="157.50" y2="833.50" stroke="#1c1c1c" stroke-width="1.2" stroke-linecap="butt"/>
<line x1="152.50" y1="796.25" x2="163.00" y2="796.25" stroke="#1c1c1c" stroke-width="1.3" stroke-linecap="butt"/>
<polygon points="180.00,763.75 192.75,755.75 192.75,880.40 180.00,888.40" fill="#bababa" filter="url(#ns)"/>
<polygon points="180.00,763.75 192.75,755.75 192.75,880.40 180.00,888.40" fill="none" stroke="#1c1c1c" stroke-width="1.45" stroke-linejoin="miter"/>
<polygon points="165.00,763.75 180.00,763.75 180.00,888.40 165.00,888.40" fill="#dbdbdb" filter="url(#nf)"/>
<polygon points="165.00,763.75 180.00,763.75 180.00,888.40 165.00,888.40" fill="none" stroke="#1c1c1c" stroke-width="1.45" stroke-linejoin="miter"/>
<polygon points="165.00,763.75 180.00,763.75 192.75,755.75 177.75,755.75" fill="#fff" stroke="#1c1c1c" stroke-width="1.45" stroke-linejoin="miter"/>
<line x1="173.75" y1="669.50" x2="173.75" y2="759.75" stroke="#1c1c1c" stroke-width="1.2" stroke-linecap="butt"/>
<line x1="168.25" y1="669.50" x2="179.25" y2="669.50" stroke="#1c1c1c" stroke-width="1.3" stroke-linecap="butt"/>
<polygon points="156.75,780.50 157.57,782.17 159.41,782.43 158.08,783.73 158.40,785.57 156.75,784.70 155.10,785.57 155.42,783.73 154.09,782.43 155.93,782.17" fill="#1c1c1c" stroke="#1c1c1c" stroke-width="0.45" stroke-linejoin="round"/>
<polygon points="183.75,736.25 184.57,737.92 186.41,738.18 185.08,739.48 185.40,741.32 183.75,740.45 182.10,741.32 182.42,739.48 181.09,738.18 182.93,737.92" fill="#1c1c1c" stroke="#1c1c1c" stroke-width="0.45" stroke-linejoin="round"/>
<polygon points="213.00,843.00 228.25,843.00 239.75,835.00 224.50,835.00" fill="#fff" stroke="#1c1c1c" stroke-width="1.45" stroke-linejoin="miter"/>
<rect x="213.00" y="843.00" width="15.25" height="45.40" fill="url(#dots)" stroke="#1c1c1c" stroke-width="1.45"/>
<line x1="220.00" y1="802.50" x2="220.00" y2="839.00" stroke="#1c1c1c" stroke-width="1.2" stroke-linecap="butt"/>
<line x1="214.50" y1="802.50" x2="225.00" y2="802.50" stroke="#1c1c1c" stroke-width="1.3" stroke-linecap="butt"/>
<polygon points="244.50,785.00 256.00,777.50 256.00,880.90 244.50,888.40" fill="#bababa" filter="url(#ns)"/>
<polygon points="244.50,785.00 256.00,777.50 256.00,880.90 244.50,888.40" fill="none" stroke="#1c1c1c" stroke-width="1.45" stroke-linejoin="miter"/>
<polygon points="228.25,785.00 244.50,785.00 244.50,888.40 228.25,888.40" fill="#dbdbdb" filter="url(#nf)"/>
<polygon points="228.25,785.00 244.50,785.00 244.50,888.40 228.25,888.40" fill="none" stroke="#1c1c1c" stroke-width="1.45" stroke-linejoin="miter"/>
<polygon points="228.25,785.00 244.50,785.00 256.00,777.50 239.75,777.50" fill="#fff" stroke="#1c1c1c" stroke-width="1.45" stroke-linejoin="miter"/>
<line x1="235.75" y1="699.50" x2="235.75" y2="781.25" stroke="#1c1c1c" stroke-width="1.2" stroke-linecap="butt"/>
<line x1="230.50" y1="699.50" x2="241.75" y2="699.50" stroke="#1c1c1c" stroke-width="1.3" stroke-linecap="butt"/>
<polygon points="217.00,784.50 217.82,786.17 219.66,786.43 218.33,787.73 218.65,789.57 217.00,788.70 215.35,789.57 215.67,787.73 214.34,786.43 216.18,786.17" fill="#1c1c1c" stroke="#1c1c1c" stroke-width="0.45" stroke-linejoin="round"/>
<polygon points="245.75,758.25 246.57,759.92 248.41,760.18 247.08,761.48 247.40,763.32 245.75,762.45 244.10,763.32 244.42,761.48 243.09,760.18 244.93,759.92" fill="#1c1c1c" stroke="#1c1c1c" stroke-width="0.45" stroke-linejoin="round"/>
<polygon points="275.50,848.00 291.25,848.00 303.10,840.00 287.35,840.00" fill="#fff" stroke="#1c1c1c" stroke-width="1.45" stroke-linejoin="miter"/>
<rect x="275.50" y="848.00" width="15.75" height="40.40" fill="url(#dots)" stroke="#1c1c1c" stroke-width="1.45"/>
<line x1="283.75" y1="827.25" x2="283.75" y2="844.00" stroke="#1c1c1c" stroke-width="1.2" stroke-linecap="butt"/>
<line x1="278.50" y1="827.25" x2="289.40" y2="827.25" stroke="#1c1c1c" stroke-width="1.3" stroke-linecap="butt"/>
<polygon points="306.90,804.25 318.75,796.50 318.75,880.65 306.90,888.40" fill="#bababa" filter="url(#ns)"/>
<polygon points="306.90,804.25 318.75,796.50 318.75,880.65 306.90,888.40" fill="none" stroke="#1c1c1c" stroke-width="1.45" stroke-linejoin="miter"/>
<polygon points="291.25,804.25 306.90,804.25 306.90,888.40 291.25,888.40" fill="#dbdbdb" filter="url(#nf)"/>
<polygon points="291.25,804.25 306.90,804.25 306.90,888.40 291.25,888.40" fill="none" stroke="#1c1c1c" stroke-width="1.45" stroke-linejoin="miter"/>
<polygon points="291.25,804.25 306.90,804.25 318.75,796.50 303.10,796.50" fill="#fff" stroke="#1c1c1c" stroke-width="1.45" stroke-linejoin="miter"/>
<line x1="298.25" y1="767.50" x2="298.25" y2="800.38" stroke="#1c1c1c" stroke-width="1.2" stroke-linecap="butt"/>
<line x1="292.50" y1="767.50" x2="304.25" y2="767.50" stroke="#1c1c1c" stroke-width="1.3" stroke-linecap="butt"/>
<polygon points="337.50,874.50 353.75,874.50 365.50,866.50 349.25,866.50" fill="#fff" stroke="#1c1c1c" stroke-width="1.45" stroke-linejoin="miter"/>
<rect x="337.50" y="874.50" width="16.25" height="13.90" fill="url(#dots)" stroke="#1c1c1c" stroke-width="1.45"/>
<line x1="341.25" y1="868.75" x2="352.50" y2="868.75" stroke="#1c1c1c" stroke-width="1.3" stroke-linecap="butt"/>
<polygon points="370.00,851.25 381.75,843.75 381.75,880.90 370.00,888.40" fill="#bababa" filter="url(#ns)"/>
<polygon points="370.00,851.25 381.75,843.75 381.75,880.90 370.00,888.40" fill="none" stroke="#1c1c1c" stroke-width="1.45" stroke-linejoin="miter"/>
<polygon points="353.75,851.25 370.00,851.25 370.00,888.40 353.75,888.40" fill="#dbdbdb" filter="url(#nf)"/>
<polygon points="353.75,851.25 370.00,851.25 370.00,888.40 353.75,888.40" fill="none" stroke="#1c1c1c" stroke-width="1.45" stroke-linejoin="miter"/>
<polygon points="353.75,851.25 370.00,851.25 381.75,843.75 365.50,843.75" fill="#fff" stroke="#1c1c1c" stroke-width="1.45" stroke-linejoin="miter"/>
<line x1="361.75" y1="833.00" x2="361.75" y2="847.50" stroke="#1c1c1c" stroke-width="1.2" stroke-linecap="butt"/>
<line x1="356.75" y1="833.00" x2="367.50" y2="833.00" stroke="#1c1c1c" stroke-width="1.3" stroke-linecap="butt"/>
<polygon points="347.00,853.00 347.82,854.67 349.66,854.93 348.33,856.23 348.65,858.07 347.00,857.20 345.35,858.07 345.67,856.23 344.34,854.93 346.18,854.67" fill="#1c1c1c" stroke="#1c1c1c" stroke-width="0.45" stroke-linejoin="round"/>
<polygon points="367.50,827.00 368.32,828.67 370.16,828.93 368.83,830.23 369.15,832.07 367.50,831.20 365.85,832.07 366.17,830.23 364.84,828.93 366.68,828.67" fill="#1c1c1c" stroke="#1c1c1c" stroke-width="0.45" stroke-linejoin="round"/>
<polygon points="401.25,883.00 417.00,883.00 428.65,875.00 412.90,875.00" fill="#fff" stroke="#1c1c1c" stroke-width="1.45" stroke-linejoin="miter"/>
<rect x="401.25" y="883.00" width="15.75" height="5.40" fill="url(#dots)" stroke="#1c1c1c" stroke-width="1.45"/>
<polygon points="432.75,877.25 444.40,869.25 444.40,880.40 432.75,888.40" fill="#bababa" filter="url(#ns)"/>
<polygon points="432.75,877.25 444.40,869.25 444.40,880.40 432.75,888.40" fill="none" stroke="#1c1c1c" stroke-width="1.45" stroke-linejoin="miter"/>
<polygon points="417.00,877.25 432.75,877.25 432.75,888.40 417.00,888.40" fill="#dbdbdb" filter="url(#nf)"/>
<polygon points="417.00,877.25 432.75,877.25 432.75,888.40 417.00,888.40" fill="none" stroke="#1c1c1c" stroke-width="1.45" stroke-linejoin="miter"/>
<polygon points="417.00,877.25 432.75,877.25 444.40,869.25 428.65,869.25" fill="#fff" stroke="#1c1c1c" stroke-width="1.45" stroke-linejoin="miter"/>
<line x1="421.25" y1="870.00" x2="431.75" y2="870.00" stroke="#1c1c1c" stroke-width="1.3" stroke-linecap="butt"/>
<polygon points="408.75,863.75 409.57,865.42 411.41,865.68 410.08,866.98 410.40,868.82 408.75,867.95 407.10,868.82 407.42,866.98 406.09,865.68 407.93,865.42" fill="#1c1c1c" stroke="#1c1c1c" stroke-width="0.45" stroke-linejoin="round"/>
<polygon points="429.10,856.40 429.92,858.07 431.76,858.33 430.43,859.63 430.75,861.47 429.10,860.60 427.45,861.47 427.77,859.63 426.44,858.33 428.28,858.07" fill="#1c1c1c" stroke="#1c1c1c" stroke-width="0.45" stroke-linejoin="round"/>
<polygon points="463.60,887.00 480.60,887.00 493.80,879.00 476.80,879.00" fill="#fff" stroke="#1c1c1c" stroke-width="1.45" stroke-linejoin="miter"/>
<polygon points="495.80,880.80 509.00,872.60 509.00,880.20 495.80,888.40" fill="#bababa" filter="url(#ns)"/>
<polygon points="495.80,880.80 509.00,872.60 509.00,880.20 495.80,888.40" fill="none" stroke="#1c1c1c" stroke-width="1.45" stroke-linejoin="miter"/>
<polygon points="480.60,880.80 495.80,880.80 495.80,888.40 480.60,888.40" fill="#dbdbdb" filter="url(#nf)"/>
<polygon points="480.60,880.80 495.80,880.80 495.80,888.40 480.60,888.40" fill="none" stroke="#1c1c1c" stroke-width="1.45" stroke-linejoin="miter"/>
<polygon points="480.60,880.80 495.80,880.80 509.00,872.60 493.80,872.60" fill="#fff" stroke="#1c1c1c" stroke-width="1.45" stroke-linejoin="miter"/>
<line x1="488.30" y1="877.00" x2="493.30" y2="877.00" stroke="#1c1c1c" stroke-width="1.3" stroke-linecap="butt"/>
<polygon points="476.70,867.50 477.52,869.17 479.36,869.43 478.03,870.73 478.35,872.57 476.70,871.70 475.05,872.57 475.37,870.73 474.04,869.43 475.88,869.17" fill="#1c1c1c" stroke="#1c1c1c" stroke-width="0.45" stroke-linejoin="round"/>
<polygon points="497.30,858.80 498.12,860.47 499.96,860.73 498.63,862.03 498.95,863.87 497.30,863.00 495.65,863.87 495.97,862.03 494.64,860.73 496.48,860.47" fill="#1c1c1c" stroke="#1c1c1c" stroke-width="0.45" stroke-linejoin="round"/>
<line x1="81.30" y1="888.75" x2="497.00" y2="888.75" stroke="#1c1c1c" stroke-width="2.0" stroke-linecap="butt"/>
<line x1="81.80" y1="631.70" x2="81.80" y2="889.40" stroke="#1c1c1c" stroke-width="1.45" stroke-linecap="butt"/>
<line x1="72.60" y1="632.30" x2="81.80" y2="632.30" stroke="#1c1c1c" stroke-width="1.45" stroke-linecap="butt"/>
<line x1="72.60" y1="675.70" x2="81.80" y2="675.70" stroke="#1c1c1c" stroke-width="1.45" stroke-linecap="butt"/>
<line x1="72.60" y1="718.00" x2="81.80" y2="718.00" stroke="#1c1c1c" stroke-width="1.45" stroke-linecap="butt"/>
<line x1="72.60" y1="760.50" x2="81.80" y2="760.50" stroke="#1c1c1c" stroke-width="1.45" stroke-linecap="butt"/>
<line x1="72.60" y1="804.30" x2="81.80" y2="804.30" stroke="#1c1c1c" stroke-width="1.45" stroke-linecap="butt"/>
<line x1="72.60" y1="846.60" x2="81.80" y2="846.60" stroke="#1c1c1c" stroke-width="1.45" stroke-linecap="butt"/>
<line x1="72.60" y1="888.40" x2="81.80" y2="888.40" stroke="#1c1c1c" stroke-width="1.45" stroke-linecap="butt"/>
<text transform="translate(35.50,637.65) scale(1.0785,1)" font-size="11.9" font-weight="normal" fill="#1c1c1c" stroke="#1c1c1c" stroke-width="0.3">600</text>
<text transform="translate(40.30,681.45) scale(1.0380,1)" font-size="11.9" font-weight="normal" fill="#1c1c1c" stroke="#1c1c1c" stroke-width="0.3">500</text>
<text transform="translate(34.80,722.25) scale(1.0532,1)" font-size="11.9" font-weight="normal" fill="#1c1c1c" stroke="#1c1c1c" stroke-width="0.3">400</text>
<text transform="translate(37.80,764.65) scale(1.0430,1)" font-size="11.9" font-weight="normal" fill="#1c1c1c" stroke="#1c1c1c" stroke-width="0.3">300</text>
<text transform="translate(40.30,808.75) scale(1.0380,1)" font-size="11.9" font-weight="normal" fill="#1c1c1c" stroke="#1c1c1c" stroke-width="0.3">200</text>
<text transform="translate(49.00,850.35) scale(0.9772,1)" font-size="11.9" font-weight="normal" fill="#1c1c1c" stroke="#1c1c1c" stroke-width="0.3">100</text>
<text transform="translate(81.25,904.80) scale(1.0032,1)" font-size="13.4" font-weight="normal" fill="#1c1c1c" stroke="#1c1c1c" stroke-width="0.3">MGDF</text>
<text transform="translate(87.00,921.40) scale(0.9879,1)" font-size="13.4" font-weight="normal" fill="#1c1c1c" stroke="#1c1c1c" stroke-width="0.3">+IL-3</text>
<text transform="translate(146.25,904.80) scale(0.9968,1)" font-size="13.4" font-weight="normal" fill="#1c1c1c" stroke="#1c1c1c" stroke-width="0.3">MGDF</text>
<text transform="translate(146.25,921.40) scale(0.9783,1)" font-size="13.4" font-weight="normal" fill="#1c1c1c" stroke="#1c1c1c" stroke-width="0.3">+SCF</text>
<text transform="translate(210.50,904.80) scale(0.9841,1)" font-size="13.4" font-weight="normal" fill="#1c1c1c" stroke="#1c1c1c" stroke-width="0.3">MGDF</text>
<text transform="translate(214.50,921.40) scale(0.9565,1)" font-size="13.4" font-weight="normal" fill="#1c1c1c" stroke="#1c1c1c" stroke-width="0.3">+SCF</text>
<text transform="translate(216.25,937.20) scale(0.9555,1)" font-size="13.4" font-weight="normal" fill="#1c1c1c" stroke="#1c1c1c" stroke-width="0.3">+IL-6</text>
<text transform="translate(279.25,904.80) scale(1.0032,1)" font-size="13.4" font-weight="normal" fill="#1c1c1c" stroke="#1c1c1c" stroke-width="0.3">MGDF</text>
<text transform="translate(348.75,904.80) scale(0.9128,1)" font-size="13.4" font-weight="normal" fill="#1c1c1c" stroke="#1c1c1c" stroke-width="0.3">IL3</text>
<text transform="translate(340.00,921.40) scale(0.9783,1)" font-size="13.4" font-weight="normal" fill="#1c1c1c" stroke="#1c1c1c" stroke-width="0.3">+SCF</text>
<text transform="translate(342.00,937.20) scale(1.0040,1)" font-size="13.4" font-weight="normal" fill="#1c1c1c" stroke="#1c1c1c" stroke-width="0.3">+IL-6</text>
<text transform="translate(409.50,904.80) scale(0.9933,1)" font-size="13.4" font-weight="normal" fill="#1c1c1c" stroke="#1c1c1c" stroke-width="0.3">IL3</text>
<text transform="translate(401.25,921.40) scale(0.9783,1)" font-size="13.4" font-weight="normal" fill="#1c1c1c" stroke="#1c1c1c" stroke-width="0.3">+SCF</text>
<text transform="translate(472.00,904.80) scale(0.9450,1)" font-size="13.4" font-weight="normal" fill="#1c1c1c" stroke="#1c1c1c" stroke-width="0.3">IL3</text>
<text transform="translate(105.40,15.60) scale(0.9615,1)" font-size="18.04" font-weight="bold" fill="#1c1c1c" stroke="#1c1c1c" stroke-width="0.3">A</text>
<text transform="translate(92.00,332.30) scale(0.8914,1)" font-size="18.18" font-weight="bold" fill="#1c1c1c" stroke="#1c1c1c" stroke-width="0.3">B</text>
<text transform="translate(91.20,644.67) scale(0.9394,1)" font-size="18.91" font-weight="bold" fill="#1c1c1c" stroke="#1c1c1c" stroke-width="0.3">C</text>
<rect x="244.8" y="19.4" width="17.2" height="12.6" fill="url(#dots)" stroke="#1c1c1c" stroke-width="1.45"/>
<rect x="244.8" y="48.5" width="17.2" height="12.7" fill="#fff" stroke="#1c1c1c" stroke-width="1.45"/>
<rect x="247.2" y="51" width="12.4" height="7.8" fill="#dbdbdb"/>
<text transform="translate(269.60,27.50) scale(1.0165,1)" font-size="12.2" font-weight="normal" fill="#1c1c1c" stroke="#1c1c1c" stroke-width="0.3">Bone marrow cells</text>
<text transform="translate(271.50,58.50) scale(1.0013,1)" font-size="12.2" font-weight="normal" fill="#1c1c1c" stroke="#1c1c1c" stroke-width="0.3">Blood cells</text>
<text transform="translate(20.80,144.10) rotate(-90) scale(0.9831,1.0425)" font-size="15" font-weight="bold" fill="#1c1c1c" stroke="#1c1c1c" stroke-width="0.3">MKsx10<tspan dy="-3.17">3</tspan></text>
<text transform="translate(26.00,547.30) rotate(-90) scale(1.0006,0.9877)" font-size="15" font-weight="bold" fill="#1c1c1c" stroke="#1c1c1c" stroke-width="0.3">Proplatelet bearing MKs x 10<tspan dy="-2.33">3</tspan></text>
<text transform="translate(16.80,811.90) rotate(-90) scale(0.9954,1.0242)" font-size="15" font-weight="bold" fill="#1c1c1c" stroke="#1c1c1c" stroke-width="0.3">Platelets x 10<tspan dy="-2.44">3</tspan></text>
</g>
</svg>
</body></html>
